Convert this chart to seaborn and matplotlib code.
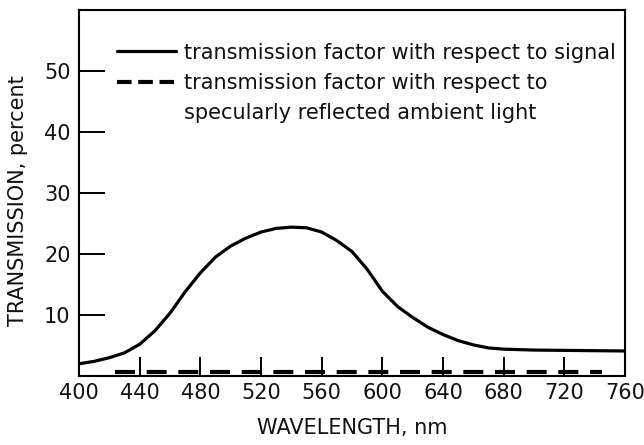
import numpy as np
import pandas as pd
import matplotlib
matplotlib.use("Agg")
import matplotlib.pyplot as plt
from matplotlib.lines import Line2D
import seaborn as sns

# values
wavelength = [400, 410, 420, 430, 440, 450, 460, 470, 480, 490, 500, 510, 520,
              530, 540, 550, 560, 570, 580, 590, 600, 610, 620, 630, 640, 650,
              660, 670, 680, 700, 720, 740, 760]
signal = [2.0, 2.4, 3.0, 3.8, 5.2, 7.4, 10.3, 13.8, 16.9, 19.5, 21.3, 22.6, 23.6,
          24.2, 24.4, 24.3, 23.6, 22.2, 20.4, 17.5, 13.9, 11.4, 9.6, 8.0, 6.8, 5.8,
          5.1, 4.6, 4.4, 4.25, 4.2, 4.15, 4.1]
ambient_wl = [424, 745]
ambient = [0.6, 0.6]

x_ticks = [400, 440, 480, 520, 560, 600, 640, 680, 720, 760]
y_ticks = [10, 20, 30, 40, 50]

df_sig = pd.DataFrame({"wavelength": wavelength, "transmission": signal})
df_amb = pd.DataFrame({"wavelength": ambient_wl, "transmission": ambient})

sns.set_style("ticks")
plt.rcParams["font.family"] = ["DejaVu Sans"]
plt.rcParams["text.color"] = "#111111"
plt.rcParams["axes.labelcolor"] = "#111111"
plt.rcParams["xtick.color"] = "black"
plt.rcParams["ytick.color"] = "black"
plt.rcParams["xtick.labelcolor"] = "#111111"
plt.rcParams["ytick.labelcolor"] = "#111111"

fig, ax = plt.subplots(figsize=(6.44, 4.45), dpi=100)
fig.subplots_adjust(left=79 / 644, right=625 / 644, bottom=1 - 376 / 445, top=1 - 10 / 445)

sns.lineplot(data=df_sig, x="wavelength", y="transmission", color="black",
             linewidth=2.3, ax=ax)
sns.lineplot(data=df_amb, x="wavelength", y="transmission", color="black",
             linewidth=3.0, linestyle=(0, (4.8, 2.8)), ax=ax)

ax.set_xlim(400, 760)
ax.set_ylim(0, 60)
ax.set_xticks(x_ticks)
ax.set_yticks(y_ticks)
ax.tick_params(axis="x", direction="in", length=13.5, width=1.4, labelsize=15, pad=5)
ax.tick_params(axis="y", direction="in", length=18.5, width=1.4, labelsize=15, pad=6)
for s in ax.spines.values():
    s.set_visible(True)
    s.set_linewidth(1.5)
    s.set_color("black")

ax.set_xlabel("WAVELENGTH, nm", fontsize=15)
ax.set_ylabel("TRANSMISSION, percent", fontsize=15)
ax.xaxis.set_label_coords(0.5, -0.115)
ax.yaxis.set_label_coords(-0.093, 0.48)

handles = [
    Line2D([], [], color="black", linewidth=2.3),
    Line2D([], [], color="black", linewidth=3.0, linestyle=(0, (3.5, 1.6))),
    Line2D([], [], linestyle="none"),
]
labels = [
    "transmission factor with respect to signal",
    "transmission factor with respect to",
    "specularly reflected ambient light",
]
ax.legend(handles, labels, loc="upper left", bbox_to_anchor=(0.07, 0.911),
          frameon=False, fontsize=15, handlelength=2.8, handletextpad=0.4,
          labelspacing=0.5, borderpad=0, borderaxespad=0)

fig.savefig("out.png", dpi=100)
